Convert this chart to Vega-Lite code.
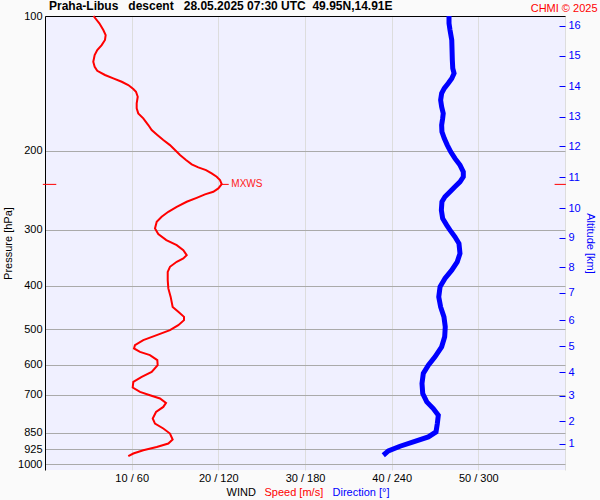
{
  "$schema": "https://vega.github.io/schema/vega-lite/v6.json",
  "width": 520,
  "height": 454,
  "autosize": "none",
  "padding": {"left": 45, "top": 16, "right": 35, "bottom": 30},
  "background": "#fafafa",
  "title": {
    "text": "Praha-Libus\u00a0\u00a0\u00a0descent\u00a0\u00a0\u00a028.05.2025 07:30 UTC\u00a0\u00a049.95N,14.91E",
    "anchor": "start",
    "frame": "group",
    "fontSize": 12,
    "fontWeight": "bold",
    "color": "#000000",
    "offset": 3,
    "dx": 4,
    "dy": 14,
    "font": "Liberation Sans"
  },
  "config": {
    "font": "Liberation Sans",
    "view": {"fill": "#f0f0ff", "stroke": null},
    "axis": {
      "labelFont": "Liberation Sans",
      "titleFont": "Liberation Sans",
      "labelFontSize": 11,
      "titleFontSize": 11,
      "titleFontWeight": "normal",
      "labelColor": "#000000",
      "titleColor": "#000000",
      "labelOverlap": false,
      "labelFlush": false
    }
  },
  "datasets": {
    "speed": [
      {"p": 100, "speed": 5.6}, {"p": 103.8, "speed": 6.27}, {"p": 107.5, "speed": 6.73}, {"p": 110.3, "speed": 7.0},
      {"p": 113.1, "speed": 6.92}, {"p": 116.1, "speed": 6.54}, {"p": 119.1, "speed": 6.03}, {"p": 122.2, "speed": 5.73},
      {"p": 126.5, "speed": 5.57}, {"p": 129.8, "speed": 5.73}, {"p": 132.5, "speed": 6.03}, {"p": 135.4, "speed": 6.92},
      {"p": 137.8, "speed": 7.88}, {"p": 140.2, "speed": 8.85}, {"p": 142.6, "speed": 9.61}, {"p": 145.5, "speed": 10.19},
      {"p": 147.6, "speed": 10.5}, {"p": 151.4, "speed": 10.7}, {"p": 156.6, "speed": 10.58}, {"p": 160.7, "speed": 10.58},
      {"p": 164.9, "speed": 10.76}, {"p": 169.2, "speed": 11.34}, {"p": 175.1, "speed": 11.92}, {"p": 179.7, "speed": 12.31},
      {"p": 184.3, "speed": 12.96}, {"p": 189.1, "speed": 13.65}, {"p": 194.1, "speed": 14.42}, {"p": 199.1, "speed": 15.0},
      {"p": 204.3, "speed": 15.58}, {"p": 209.6, "speed": 16.27}, {"p": 214.3, "speed": 16.93}, {"p": 217.6, "speed": 17.69},
      {"p": 220.7, "speed": 18.58}, {"p": 224.5, "speed": 19.23}, {"p": 228.4, "speed": 19.81}, {"p": 232.3, "speed": 20.19},
      {"p": 237.1, "speed": 20.39}, {"p": 242.5, "speed": 20.0}, {"p": 246.7, "speed": 19.42}, {"p": 250.0, "speed": 18.46},
      {"p": 254.5, "speed": 17.5}, {"p": 259.7, "speed": 16.35}, {"p": 266.5, "speed": 15.2}, {"p": 273.4, "speed": 14.23},
      {"p": 280.5, "speed": 13.46}, {"p": 287.8, "speed": 12.89}, {"p": 297.8, "speed": 12.69}, {"p": 306.6, "speed": 13.07},
      {"p": 316.2, "speed": 14.0}, {"p": 324.5, "speed": 15.2}, {"p": 332.9, "speed": 15.96}, {"p": 341.6, "speed": 16.35},
      {"p": 347.5, "speed": 15.96}, {"p": 353.5, "speed": 15.2}, {"p": 362.7, "speed": 14.42}, {"p": 372.2, "speed": 14.16},
      {"p": 388.4, "speed": 14.16}, {"p": 405.3, "speed": 14.23}, {"p": 423.3, "speed": 14.5}, {"p": 445.7, "speed": 14.73},
      {"p": 457.1, "speed": 15.38}, {"p": 469.0, "speed": 16.04}, {"p": 477.0, "speed": 16.04}, {"p": 489.4, "speed": 15.38},
      {"p": 502.2, "speed": 14.42}, {"p": 515.3, "speed": 12.89}, {"p": 528.6, "speed": 11.34}, {"p": 542.4, "speed": 10.38},
      {"p": 551.7, "speed": 10.27}, {"p": 561.4, "speed": 10.96}, {"p": 570.9, "speed": 12.11}, {"p": 585.8, "speed": 12.96},
      {"p": 601.2, "speed": 13.0}, {"p": 622.3, "speed": 12.31}, {"p": 638.5, "speed": 11.16}, {"p": 655.1, "speed": 10.19},
      {"p": 674.2, "speed": 10.12}, {"p": 689.6, "speed": 10.96}, {"p": 701.5, "speed": 12.11}, {"p": 713.4, "speed": 13.27},
      {"p": 729.8, "speed": 13.96}, {"p": 744.9, "speed": 13.65}, {"p": 764.4, "speed": 12.81}, {"p": 790.7, "speed": 12.43},
      {"p": 811.3, "speed": 12.69}, {"p": 832.3, "speed": 13.65}, {"p": 854.1, "speed": 14.42}, {"p": 880.8, "speed": 14.73},
      {"p": 899.1, "speed": 14.23}, {"p": 915.0, "speed": 12.89}, {"p": 930.7, "speed": 11.34}, {"p": 946.5, "speed": 10.19},
      {"p": 959.7, "speed": 9.61}
    ],
    "dir": [
      {"p": 100, "dir": 279.7}, {"p": 103.8, "dir": 279.7}, {"p": 107.5, "dir": 280.4}, {"p": 113.1, "dir": 281.6},
      {"p": 119.1, "dir": 281.8}, {"p": 125.4, "dir": 282.0}, {"p": 130.8, "dir": 282.3}, {"p": 134.2, "dir": 283.2},
      {"p": 137.8, "dir": 281.6}, {"p": 141.3, "dir": 279.2}, {"p": 145.0, "dir": 276.4}, {"p": 148.8, "dir": 274.6},
      {"p": 154.0, "dir": 273.9}, {"p": 159.4, "dir": 274.6}, {"p": 164.9, "dir": 275.7}, {"p": 169.2, "dir": 275.3},
      {"p": 175.1, "dir": 274.6}, {"p": 181.2, "dir": 274.8}, {"p": 187.5, "dir": 276.4}, {"p": 194.1, "dir": 278.5},
      {"p": 200.9, "dir": 280.9}, {"p": 207.8, "dir": 283.8}, {"p": 215.1, "dir": 287.3}, {"p": 222.6, "dir": 289.6},
      {"p": 228.4, "dir": 289.6}, {"p": 234.4, "dir": 287.3}, {"p": 240.4, "dir": 283.8}, {"p": 246.7, "dir": 280.4},
      {"p": 253.1, "dir": 276.9}, {"p": 259.7, "dir": 274.8}, {"p": 271.0, "dir": 274.4}, {"p": 282.9, "dir": 275.3},
      {"p": 292.8, "dir": 278.1}, {"p": 300.4, "dir": 280.4}, {"p": 310.9, "dir": 283.8}, {"p": 321.7, "dir": 286.6},
      {"p": 338.6, "dir": 287.3}, {"p": 353.5, "dir": 285.4}, {"p": 369.0, "dir": 281.6}, {"p": 385.0, "dir": 276.9},
      {"p": 402.0, "dir": 273.5}, {"p": 423.3, "dir": 272.6}, {"p": 445.7, "dir": 273.9}, {"p": 469.0, "dir": 276.2},
      {"p": 493.7, "dir": 277.1}, {"p": 519.7, "dir": 276.7}, {"p": 547.1, "dir": 274.6}, {"p": 576.0, "dir": 270.0},
      {"p": 601.2, "dir": 265.4}, {"p": 627.3, "dir": 261.9}, {"p": 660.6, "dir": 261.0}, {"p": 695.4, "dir": 261.5},
      {"p": 725.9, "dir": 264.3}, {"p": 751.1, "dir": 268.8}, {"p": 777.4, "dir": 272.3}, {"p": 811.3, "dir": 271.6},
      {"p": 847.0, "dir": 270.7}, {"p": 869.1, "dir": 265.4}, {"p": 891.7, "dir": 255.0}, {"p": 911.6, "dir": 245.8},
      {"p": 933.9, "dir": 237.7}, {"p": 954.8, "dir": 234.2}
    ],
    "mxmarks": [
      {"p": 237.5, "s1": -0.25, "s2": 1.3},
      {"p": 237.5, "s1": 20.4, "s2": 21.2},
      {"p": 237.5, "s1": 58.8, "s2": 60.1}
    ],
    "mxlabel": [
      {"p": 237.5, "speed": 21.5, "label": "MXWS"}
    ]
  },
  "layer": [
    {
      "data": {"name": "speed"},
      "mark": {"type": "line", "color": "#ff0000", "strokeWidth": 2},
      "encoding": {
        "x": {
          "field": "speed", "type": "quantitative",
          "scale": {"domain": [0, 60], "nice": false, "zero": false},
          "axis": {
            "orient": "bottom", "values": [10, 20, 30, 40, 50, 60],
            "labelExpr": "datum.value < 60 ? datum.value + ' / ' + datum.value * 6 : ''",
            "grid": true, "gridColor": "#dddddd", "gridOpacity": 1,
            "ticks": false, "tickSize": 0, "domain": false, "labelPadding": 2,
            "title": "Speed [m/s]", "titleColor": "#ff0000",
            "titleX": 219, "titleY": 22, "titleAlign": "left", "titleBaseline": "middle"
          }
        },
        "y": {
          "field": "p", "type": "quantitative",
          "scale": {"type": "log", "domain": [100, 1030], "reverse": true, "nice": false},
          "axis": {
            "orient": "left", "values": [100, 200, 300, 400, 500, 600, 700, 850, 925, 1000],
            "format": "d",
            "grid": true, "gridColor": "#aaaaaa", "gridOpacity": 1,
            "ticks": false, "tickSize": 0, "domain": true, "domainColor": "#000000", "domainWidth": 1,
            "labelPadding": 3, "title": "Pressure [hPa]", "titlePadding": 4
          }
        },
        "order": {"field": "p", "type": "quantitative"}
      }
    },
    {
      "data": {"name": "dir"},
      "mark": {"type": "line", "color": "#0000ff", "strokeWidth": 5},
      "encoding": {
        "x": {
          "field": "dir", "type": "quantitative",
          "scale": {"domain": [0, 360], "nice": false, "zero": false},
          "axis": {
            "orient": "bottom", "labels": false, "ticks": false, "domain": false, "grid": false,
            "title": "Direction [°]", "titleColor": "#0000ff",
            "titleX": 287, "titleY": 22, "titleAlign": "left", "titleBaseline": "middle"
          }
        },
        "y": {
          "field": "p", "type": "quantitative",
          "scale": {"type": "log", "domain": [100, 1030], "reverse": true, "nice": false},
          "axis": {
            "orient": "right",
            "values": [105.1, 122.8, 143.3, 167.8, 195.1, 229.1, 268.7, 312.6, 363.9, 414.7, 477, 545.3, 623.3, 704, 801.7, 899.2],
            "labelExpr": "16 - indexof([105.1, 122.8, 143.3, 167.8, 195.1, 229.1, 268.7, 312.6, 363.9, 414.7, 477, 545.3, 623.3, 704, 801.7, 899.2], datum.value)",
            "grid": false, "domain": false, "ticks": true, "tickColor": "#0000ff", "tickSize": -6, "tickWidth": 1,
            "labelColor": "#0000ff", "labelPadding": 9,
            "title": "Altitude [km]", "titleColor": "#0000ff", "titlePadding": 4
          }
        },
        "order": {"field": "p", "type": "quantitative"}
      }
    },
    {
      "data": {"name": "mxmarks"},
      "mark": {"type": "rule", "color": "#ff0000", "strokeWidth": 1},
      "encoding": {
        "x": {
          "field": "s1", "type": "quantitative",
          "scale": {"domain": [0, 60], "nice": false, "zero": false},
          "axis": {
            "orient": "top", "labels": false, "ticks": false, "grid": false,
            "domain": true, "domainColor": "#000000", "domainWidth": 1,
            "title": "CHMI © 2025", "titleColor": "#ff0000",
            "titleX": 552, "titleY": -8, "titleAlign": "right", "titleBaseline": "middle"
          }
        },
        "x2": {"field": "s2"},
        "y": {
          "field": "p", "type": "quantitative",
          "scale": {"type": "log", "domain": [100, 1030], "reverse": true, "nice": false},
          "axis": null
        }
      }
    },
    {
      "data": {"name": "mxlabel"},
      "mark": {"type": "text", "color": "#ff2020", "fontSize": 10, "align": "left", "baseline": "middle", "font": "Liberation Sans"},
      "encoding": {
        "x": {
          "field": "speed", "type": "quantitative",
          "scale": {"domain": [0, 60], "nice": false, "zero": false},
          "axis": {
            "orient": "bottom", "labels": false, "ticks": false, "domain": false, "grid": false,
            "title": "WIND", "titleColor": "#000000",
            "titleX": 181, "titleY": 22, "titleAlign": "left", "titleBaseline": "middle"
          }
        },
        "y": {
          "field": "p", "type": "quantitative",
          "scale": {"type": "log", "domain": [100, 1030], "reverse": true, "nice": false},
          "axis": null
        },
        "text": {"field": "label"}
      }
    }
  ],
  "resolve": {"scale": {"x": "independent", "y": "independent"}}
}
